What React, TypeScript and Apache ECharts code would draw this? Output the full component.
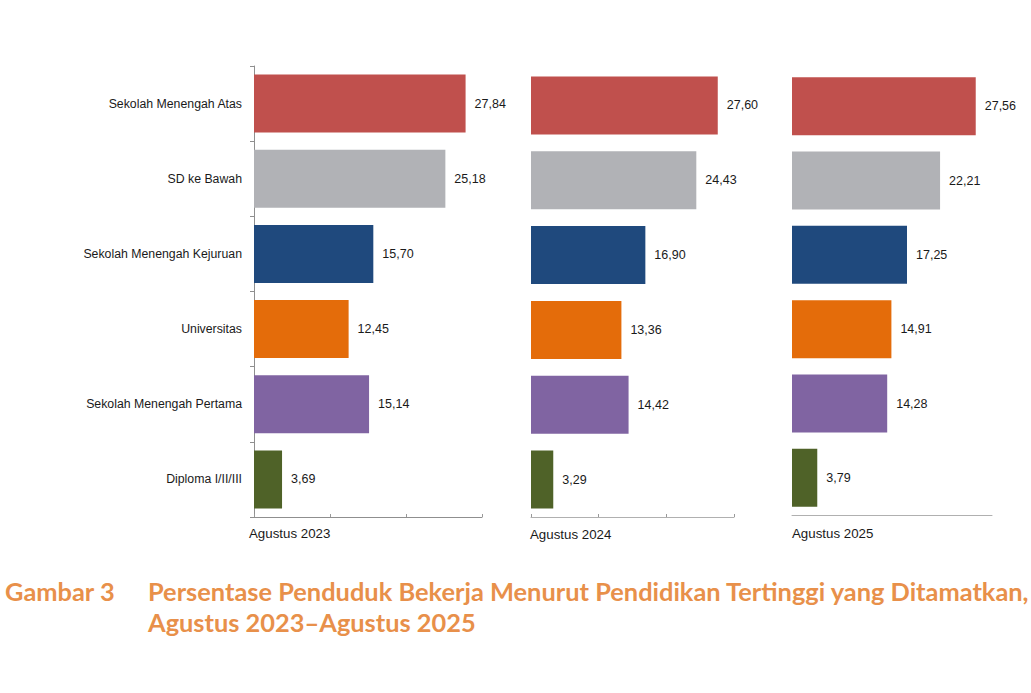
import React, { useEffect, useRef } from "react";
import * as echarts from "echarts";

const categories = [
  "Sekolah Menengah Atas",
  "SD ke Bawah",
  "Sekolah Menengah Kejuruan",
  "Universitas",
  "Sekolah Menengah Pertama",
  "Diploma I/II/III",
];
const colors = ["#C0504D", "#B1B2B6", "#1F497D", "#E46C0A", "#8064A2", "#4F6228"];
const periods = ["Agustus 2023", "Agustus 2024", "Agustus 2025"];
const values2023 = [27.84, 25.18, 15.7, 12.45, 15.14, 3.69];
const values2024 = [27.6, 24.43, 16.9, 13.36, 14.42, 3.29];
const values2025 = [27.56, 22.21, 17.25, 14.91, 14.28, 3.79];
const titleLabel = "Gambar 3";
const titleLine1 = "Persentase Penduduk Bekerja Menurut Pendidikan Tertinggi yang Ditamatkan,";
const titleLine2 = "Agustus 2023–Agustus 2025";

const FONT = '"Liberation Sans", Arial, sans-serif';

export default function App() {
  const ref = useRef<HTMLDivElement>(null);
  useEffect(() => {
    if (!ref.current) return;
    const chart = echarts.init(ref.current, null, { renderer: "svg" });
    const grids = [
      { left: 254, top: 66, width: 228, height: 451 },
      { left: 531, top: 68, width: 203, height: 449 },
      { left: 792, top: 69, width: 200, height: 446 },
    ];
    const allValues = [values2023, values2024, values2025];
    const fmt = (v: number) => v.toFixed(2).replace(".", ",");
    const xAxes = grids.map((_, i) => ({
      type: "value",
      gridIndex: i,
      min: 0,
      max: 30,
      interval: 10,
      axisLabel: { show: false },
      splitLine: { show: false },
      axisLine: { show: true, lineStyle: { color: i === 0 ? "#8f8f8f" : "#b0b0b0", width: 1 } },
      axisTick: { show: i < 2, inside: true, length: 3, lineStyle: { color: "#999" } },
    }));
    const yAxes = grids.map((_, i) => ({
      type: "category",
      gridIndex: i,
      data: categories,
      inverse: true,
      axisLine: { show: i === 0, lineStyle: { color: "#8f8f8f" } },
      axisTick: { show: i === 0, length: 4, lineStyle: { color: "#8f8f8f" } },
      axisLabel: {
        show: i === 0,
        margin: 12,
        fontFamily: FONT,
        fontSize: 12.3,
        color: "#1a1a1a",
      },
    }));
    const series = allValues.map((vals, i) => ({
      type: "bar",
      xAxisIndex: i,
      yAxisIndex: i,
      barWidth: 58,
      data: vals.map((v, j) => ({ value: v, itemStyle: { color: colors[j] } })),
      label: {
        show: true,
        position: "right",
        distance: 9,
        fontFamily: FONT,
        fontSize: 12.5,
        color: "#1a1a1a",
        formatter: (p: any) => fmt(p.value),
      },
    }));
    const periodX = [249, 530, 792];
    const periodY = [535, 536, 535];
    const graphic: any[] = periods.map((p, i) => ({
      type: "text",
      left: periodX[i],
      top: periodY[i] - 8,
      style: { text: p, fontFamily: FONT, fontSize: 13.3, fill: "#1a1a1a" },
    }));
    const TF = { fontFamily: "Lato", fontWeight: "bold", fontSize: 25.4, fill: "#E8904A" };
    graphic.push(
      { type: "text", left: 5, top: 578, style: { ...TF, text: titleLabel } },
      { type: "text", left: 148, top: 578, style: { ...TF, text: titleLine1 } },
      { type: "text", left: 148, top: 609, style: { ...TF, text: titleLine2 } }
    );
    chart.setOption({
      animation: false,
      backgroundColor: "#ffffff",
      grid: grids,
      xAxis: xAxes,
      yAxis: yAxes,
      series,
      graphic,
    });
    return () => chart.dispose();
  }, []);
  return (
    <div
      ref={ref}
      style={{ position: "absolute", left: 0, top: 0, width: 1031, height: 693, background: "#fff" }}
    />
  );
}
